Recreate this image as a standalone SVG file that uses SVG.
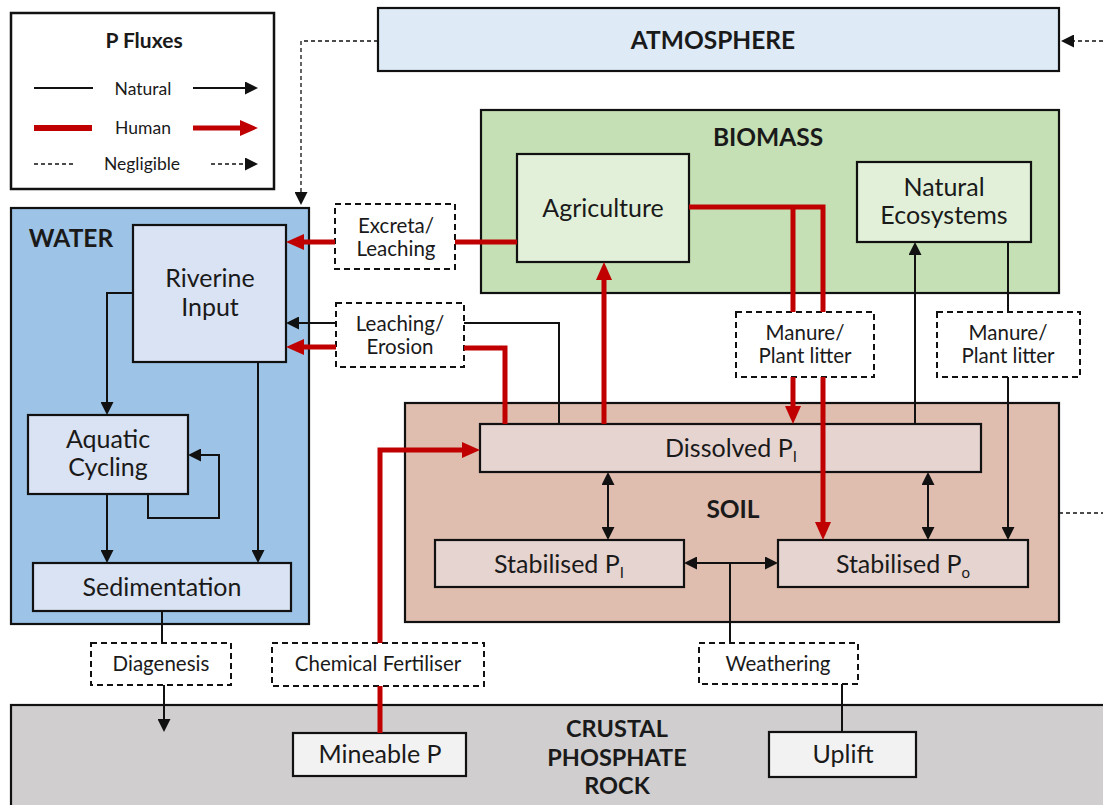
<svg xmlns="http://www.w3.org/2000/svg" width="1103" height="805" viewBox="0 0 1103 805">
  <style>
    text { font-family: Lato, "Liberation Sans", sans-serif; fill: #1a1a1a; }
    .t { font-size: 25px; text-anchor: middle; }
    .s { font-size: 20.5px; text-anchor: middle; }
    .lg { font-size: 17.5px; text-anchor: middle; }
    .h { font-size: 24.5px; font-weight: bold; text-anchor: middle; }
    .hc { font-size: 23.5px; font-weight: bold; text-anchor: middle; }
    .sub { font-size: 15px; }
    .box { stroke: #111; stroke-width: 2.2; }
    .dash { fill: #fff; stroke: #111; stroke-width: 2; stroke-dasharray: 6 4; }
    .nat { fill: none; stroke: #111; stroke-width: 2; }
    .hum { fill: none; stroke: #c00000; stroke-width: 5; }
    .neg { fill: none; stroke: #111; stroke-width: 1.3; stroke-dasharray: 4 3; }
    .ka { marker-end: url(#ah); }
    .ra { marker-end: url(#rh); }
    .kd { marker-start: url(#ah); marker-end: url(#ah); }
  </style>
  <defs>
    <marker id="ah" markerUnits="userSpaceOnUse" markerWidth="13" markerHeight="13" refX="1" refY="6.5" orient="auto-start-reverse">
      <path d="M0,0 L13,6.5 L0,13 z" fill="#111"/>
    </marker>
    <marker id="rh" markerUnits="userSpaceOnUse" markerWidth="18" markerHeight="16" refX="2" refY="8" orient="auto">
      <path d="M0,0 L18,8 L0,16 z" fill="#c00000"/>
    </marker>
  </defs>

  <rect width="1103" height="805" fill="#fff"/>

  <!-- legend -->
  <g id="legend">
    <rect x="11" y="13" width="263" height="176" fill="#fff" stroke="#111" stroke-width="2.5"/>
    <text x="144" y="48" style="font-size:21px;font-weight:bold;text-anchor:middle">P Fluxes</text>
    <line x1="34" y1="88" x2="93" y2="88" class="nat"/>
    <text x="143" y="95" class="lg">Natural</text>
    <path d="M193,88 H246" class="nat ka"/>
    <line x1="34" y1="128" x2="92" y2="128" stroke="#c00000" stroke-width="6"/>
    <text x="143" y="134" class="lg">Human</text>
    <path d="M193,128 H242" class="hum ra" stroke-width="6"/>
    <line x1="34" y1="164" x2="75" y2="164" class="neg"/>
    <text x="142" y="170" class="lg">Negligible</text>
    <path d="M211,164 H246" class="neg ka"/>
  </g>

  <!-- reservoirs -->
  <g id="atmosphere">
    <rect x="378" y="8" width="681" height="63" fill="#deebf7" class="box"/>
    <text x="713" y="49" class="h">ATMOSPHERE</text>
  </g>
  <g id="biomass">
    <rect x="481" y="110" width="578" height="183" fill="#c5e0b4" class="box"/>
    <text x="768" y="146" class="h">BIOMASS</text>
  </g>
  <g id="water">
    <rect x="11" y="208" width="298" height="416" fill="#9dc3e6" class="box"/>
    <text x="71" y="247" class="h">WATER</text>
  </g>
  <g id="soil">
    <rect x="405" y="403" width="654" height="219" fill="#dfbdaf" class="box"/>
    <text x="733" y="518" class="h">SOIL</text>
  </g>
  <g id="crust">
    <rect x="11" y="705" width="1100" height="110" fill="#d0cece" class="box"/>
    <text x="617" y="737" class="hc">CRUSTAL</text>
    <text x="617" y="766" class="hc">PHOSPHATE</text>
    <text x="617" y="794" class="hc">ROCK</text>
  </g>

  <!-- pools -->
  <g id="agriculture">
    <rect x="517" y="154" width="172" height="108" fill="#e2f0d9" class="box"/>
    <text x="603" y="217" class="t">Agriculture</text>
  </g>
  <g id="natural-ecosystems">
    <rect x="857" y="162" width="174" height="80" fill="#e2f0d9" class="box"/>
    <text x="944" y="196" class="t">Natural</text>
    <text x="944" y="224" class="t">Ecosystems</text>
  </g>
  <g id="riverine-input">
    <rect x="133" y="225" width="153" height="137" fill="#dae3f3" class="box"/>
    <text x="210" y="287" class="t">Riverine</text>
    <text x="210" y="316" class="t">Input</text>
  </g>
  <g id="aquatic-cycling">
    <rect x="28" y="415" width="160" height="79" fill="#dae3f3" class="box"/>
    <text x="108" y="448" class="t">Aquatic</text>
    <text x="108" y="476" class="t">Cycling</text>
  </g>
  <g id="sedimentation">
    <rect x="33" y="563" width="258" height="48" fill="#dae3f3" class="box"/>
    <text x="162" y="596" class="t">Sedimentation</text>
  </g>
  <g id="dissolved-pi">
    <rect x="480" y="424" width="501" height="48" fill="#e6d4d1" class="box"/>
    <text x="731" y="457" class="t">Dissolved P<tspan class="sub" dy="5">I</tspan></text>
  </g>
  <g id="stabilised-pi">
    <rect x="435" y="540" width="249" height="47" fill="#e6d4d1" class="box"/>
    <text x="559" y="573" class="t">Stabilised P<tspan class="sub" dy="5">I</tspan></text>
  </g>
  <g id="stabilised-po">
    <rect x="778" y="540" width="250" height="47" fill="#e6d4d1" class="box"/>
    <text x="903" y="573" class="t">Stabilised P<tspan class="sub" dy="5">o</tspan></text>
  </g>
  <g id="mineable-p">
    <rect x="293" y="733" width="173" height="43" fill="#f2f2f2" class="box"/>
    <text x="380" y="763" class="t">Mineable P</text>
  </g>
  <g id="uplift">
    <rect x="769" y="732" width="147" height="45" fill="#f2f2f2" class="box"/>
    <text x="843" y="763" class="t">Uplift</text>
  </g>

  <!-- flux labels -->
  <g id="excreta-leaching">
    <rect x="335" y="204" width="120" height="65" class="dash"/>
    <text x="396" y="233" class="s">Excreta/</text>
    <text x="396" y="256" class="s">Leaching</text>
  </g>
  <g id="leaching-erosion">
    <rect x="336" y="303" width="128" height="64" class="dash"/>
    <text x="400" y="331" class="s">Leaching/</text>
    <text x="400" y="354" class="s">Erosion</text>
  </g>
  <g id="manure-agri">
    <rect x="736" y="312" width="138" height="65" class="dash"/>
    <text x="805" y="340" class="s">Manure/</text>
    <text x="805" y="363" class="s">Plant litter</text>
  </g>
  <g id="manure-natural">
    <rect x="937" y="312" width="143" height="65" class="dash"/>
    <text x="1008" y="340" class="s">Manure/</text>
    <text x="1008" y="363" class="s">Plant litter</text>
  </g>
  <g id="diagenesis">
    <rect x="91" y="643" width="140" height="42" class="dash"/>
    <text x="161" y="671" class="s">Diagenesis</text>
  </g>
  <g id="chemical-fertiliser">
    <rect x="272" y="643" width="212" height="43" class="dash"/>
    <text x="378" y="671" class="s">Chemical Fertiliser</text>
  </g>
  <g id="weathering">
    <rect x="699" y="643" width="159" height="41" class="dash"/>
    <text x="778" y="671" class="s">Weathering</text>
  </g>

  <!-- fluxes -->
  <g id="connectors">
    <!-- negligible -->
    <path d="M378,41 H301 V193" class="neg ka"/>
    <path d="M1103,41 H1073" class="neg ka"/>
    <path d="M1059,513 H1103" class="neg" stroke="#888"/>

    <!-- natural, water -->
    <path d="M133,293 H107 V403" class="nat ka"/>
    <path d="M258,362 V551" class="nat ka"/>
    <path d="M107,494 V551" class="nat ka"/>
    <path d="M148,494 V518 H219 V455 H200" class="nat ka"/>
    <path d="M162,611 V643" class="nat"/>
    <path d="M164,685 V720" class="nat ka"/>

    <!-- natural, soil and biomass -->
    <path d="M559,424 V323 H464" class="nat"/>
    <path d="M336,323 H298" class="nat ka"/>
    <path d="M915,424 V254" class="nat ka"/>
    <path d="M1008,242 V312" class="nat"/>
    <path d="M1008,377 V528" class="nat ka"/>
    <path d="M608,484 V528" class="nat kd"/>
    <path d="M928,484 V528" class="nat kd"/>
    <path d="M696,563 H766" class="nat kd"/>
    <path d="M730,563 V643" class="nat"/>
    <path d="M842,684 V732" class="nat"/>

    <!-- human -->
    <path d="M517,242 H455" class="hum"/>
    <path d="M335,242 H302" class="hum ra"/>
    <path d="M505,424 V348 H464" class="hum"/>
    <path d="M336,347 H302" class="hum ra"/>
    <path d="M604,424 V278" class="hum ra"/>
    <path d="M689,207 H823 V312" class="hum"/>
    <path d="M793,207 V312" class="hum"/>
    <path d="M793,377 V408" class="hum ra"/>
    <path d="M823,377 V524" class="hum ra"/>
    <path d="M380,733 V686" class="hum"/>
    <path d="M380,643 V450 H464" class="hum ra"/>
  </g>
</svg>
